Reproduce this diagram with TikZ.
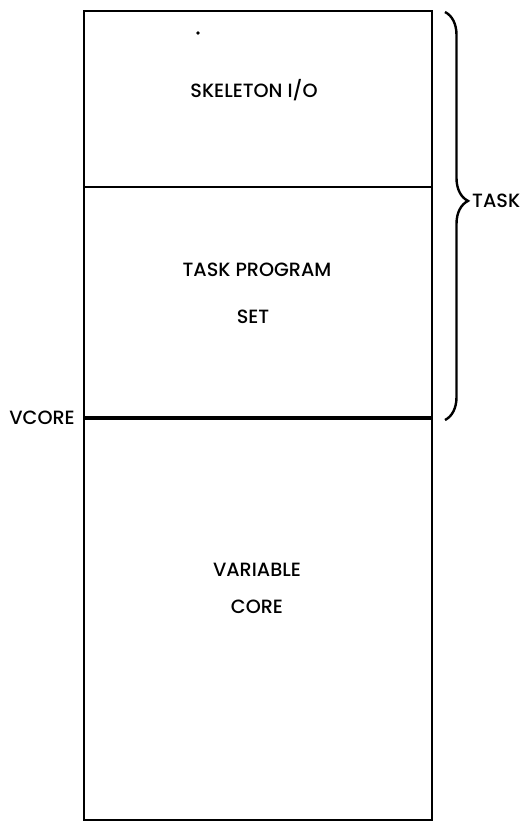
\documentclass[tikz,border=0pt]{standalone}
\usepackage{fontspec}
\setmainfont{Poppins}[UprightFont=* Medium]
\usetikzlibrary{positioning,decorations.pathreplacing}

\tikzset{
  memline/.style={line width=2.4pt},
  vline/.style={line width=3.2pt},
  lbl/.style={inner sep=0pt},
  taskbrace/.style={decorate,line width=2.4pt,
    decoration={brace,amplitude=23pt,aspect=0.463}}
}

\begin{document}
\begin{tikzpicture}[x=1pt,y=-1pt,font=\fontsize{19.2}{23}\selectfont]
    \useasboundingbox (0,0) rectangle (521,822);

    % Memory layout outline
    \coordinate (tl) at (84,11);
    \coordinate (br) at (432,820);
    \draw[memline] (tl) rectangle (br);

    % Boundary between skeleton I/O and task program set
    \coordinate (s1) at (84,187);
    \coordinate (s2) at (432,187);
    \draw[memline] (s1) -- (s2);

    % VCORE boundary
    \coordinate (vc) at (84,418);
    \coordinate (vc2) at (432,418);
    \draw[vline] (vc) -- (vc2);
    \node[lbl,left=9pt of vc] (vcore) {VCORE};

    % Region labels
    \node[lbl] (skel) at (254,90) {SKELETON I/O};
    \fill (198,33) circle (1.8pt);
    \node[lbl] (tprog) at (257,270) {TASK PROGRAM};
    \node[lbl] (tset) at (253,317) {SET};
    \node[lbl] (var) at (257,570) {VARIABLE};
    \node[lbl] (core) at (257,607) {CORE};

    % Brace over the task
    \coordinate (bt) at (445,12);
    \coordinate (bb) at (445,420);
    \draw[taskbrace] (bt) -- (bb);
    \coordinate (tip) at (468,201);
    \node[lbl,right=4pt of tip] (task) {TASK};
\end{tikzpicture}
\end{document}
